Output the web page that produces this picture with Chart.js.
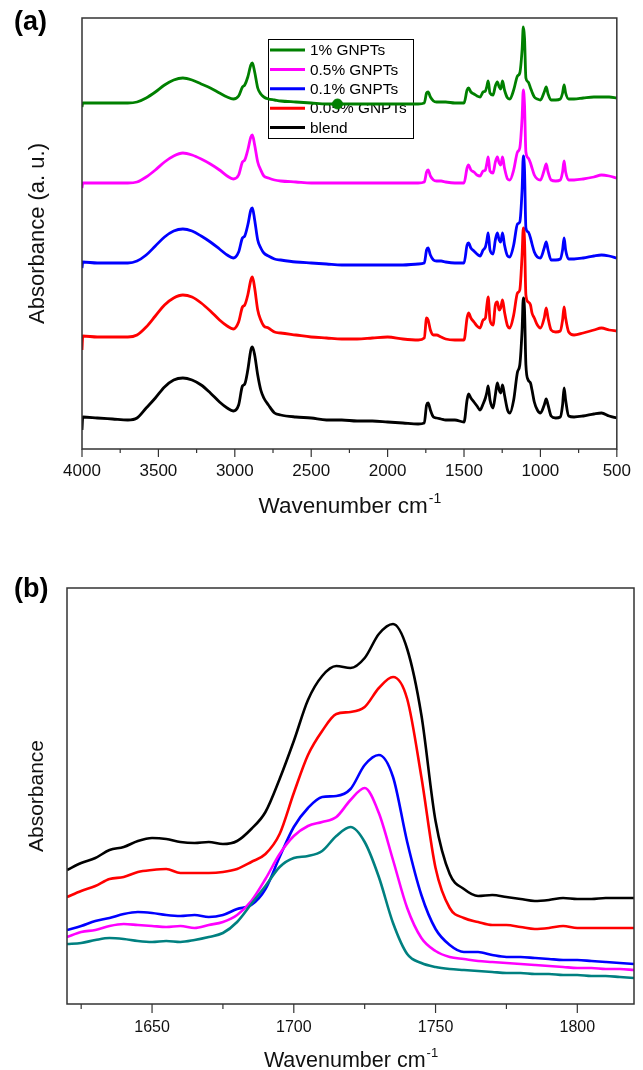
<!DOCTYPE html>
<html>
<head>
<meta charset="utf-8">
<script src="https://cdn.jsdelivr.net/npm/chart.js@4.4.1/dist/chart.umd.min.js"></script>
<style>
  body { margin: 0; background: #fff; }
  canvas { position: absolute; left: 0; }
  #chartA { top: 0; }
  #chartB { top: 540px; }
</style>
</head>
<body>
<canvas id="chartA" width="643" height="540"></canvas>
<canvas id="chartB" width="643" height="530"></canvas>
<script>
// ---- panel (a): full FTIR spectra, offset vertically ----
const wavenumbersA = [4000, 3995, 3900, 3800, 3700, 3640, 3580, 3520, 3460, 3400,
  3340, 3280, 3220, 3160, 3100, 3050, 3010, 2975, 2950, 2935,
  2915, 2895, 2885, 2870, 2850, 2830, 2810, 2780, 2740, 2700,
  2600, 2500, 2400, 2300, 2200, 2100, 2000, 1900, 1800, 1760,
  1745, 1735, 1720, 1700, 1680, 1650, 1620, 1560, 1500, 1480,
  1470, 1455, 1435, 1415, 1395, 1375, 1360, 1350, 1342, 1330,
  1310, 1295, 1282, 1270, 1260, 1248, 1235, 1215, 1200, 1175,
  1150, 1135, 1120, 1112, 1104, 1095, 1080, 1065, 1055, 1040,
  1020, 1000, 975, 962, 950, 930, 900, 870, 855, 845,
  835, 815, 780, 720, 650, 600, 550, 500];

const gnp1A = [342, 346, 346, 346, 346, 347, 351, 357, 364, 369,
  371, 369, 365, 361, 356, 352, 350, 353, 362, 364,
  372, 384, 386, 377, 361, 355, 352, 350, 349, 348,
  347, 346, 345, 345, 345, 345, 345, 345, 345, 346,
  356, 357, 352, 348, 347, 347, 347, 346, 346, 359,
  361, 357, 355, 353, 352, 357, 358, 363, 368, 356,
  354, 363, 367, 362, 360, 368, 359, 351, 350, 359,
  373, 376, 399, 422, 411, 371, 367, 361, 357, 352,
  350, 349, 357, 362, 355, 349, 349, 350, 356, 364,
  356, 350, 350, 351, 352, 352, 352, 351];

const gnp05A = [261, 266, 266, 266, 266, 267, 272, 279, 287, 293,
  296, 294, 290, 285, 279, 273, 270, 274, 287, 289,
  299, 312, 314, 304, 287, 279, 273, 271, 269, 268,
  267, 266, 266, 266, 266, 266, 266, 266, 266, 267,
  277, 279, 273, 269, 268, 268, 267, 266, 266, 281,
  284, 279, 277, 274, 273, 278, 279, 286, 292, 278,
  276, 287, 292, 286, 284, 292, 281, 270, 269, 279,
  297, 301, 331, 359, 344, 297, 291, 286, 281, 274,
  270, 269, 279, 285, 277, 269, 268, 269, 277, 288,
  277, 269, 269, 270, 272, 274, 273, 271];

const gnp01A = [181, 187, 186, 186, 186, 188, 194, 203, 212, 218,
  220, 218, 213, 207, 200, 194, 191, 197, 211, 213,
  224, 239, 241, 229, 209, 201, 196, 193, 190, 189,
  187, 186, 185, 184, 184, 184, 184, 184, 185, 186,
  199, 201, 194, 189, 188, 188, 187, 186, 186, 204,
  206, 201, 198, 195, 193, 199, 202, 209, 216, 199,
  195, 209, 216, 209, 207, 216, 204, 193, 192, 204,
  225, 227, 259, 293, 279, 221, 217, 211, 205, 197,
  192, 191, 201, 207, 199, 189, 189, 190, 199, 211,
  199, 190, 190, 191, 193, 194, 193, 191];

const gnp005A = [99, 113, 112, 112, 112, 114, 122, 133, 144, 151,
  154, 152, 146, 138, 129, 123, 120, 127, 142, 144,
  154, 169, 172, 161, 139, 129, 123, 121, 117, 116,
  114, 112, 111, 110, 110, 111, 112, 110, 109, 111,
  131, 129, 119, 114, 114, 112, 110, 109, 109, 131,
  136, 131, 127, 123, 121, 129, 131, 144, 152, 129,
  124, 144, 147, 139, 141, 149, 137, 123, 121, 134,
  156, 159, 194, 221, 209, 154, 147, 144, 136, 131,
  124, 121, 131, 141, 131, 119, 117, 118, 129, 142,
  131, 117, 114, 116, 119, 121, 119, 118];

const blendA = [19, 32, 31, 30, 29, 31, 41, 51, 62, 69,
  71, 69, 64, 56, 47, 41, 38, 44, 63, 65,
  79, 99, 102, 94, 74, 59, 51, 44, 36, 34,
  32, 31, 29, 29, 28, 28, 27, 26, 25, 26,
  44, 46, 39, 32, 31, 30, 29, 29, 27, 49,
  55, 51, 47, 43, 39, 45, 51, 57, 63, 49,
  41, 54, 66, 59, 56, 64, 54, 39, 36, 49,
  77, 84, 119, 151, 139, 84, 69, 66, 59, 47,
  39, 36, 44, 50, 44, 33, 31, 32, 44, 61,
  49, 33, 32, 33, 35, 36, 33, 31];

// stray marker left on the 1% trace
const strayPointA = [2328, 345];
const tickLabelsA = [4000, 3500, 3000, 2500, 2000, 1500, 1000, 500];

// ---- panel (b): carbonyl region ----
const wavenumbersB = [1620, 1625, 1630, 1635, 1640, 1645, 1650, 1655, 1660, 1665,
  1670, 1675, 1680, 1685, 1690, 1695, 1700, 1705, 1710, 1715,
  1720, 1725, 1730, 1735, 1740, 1745, 1750, 1755, 1760, 1765,
  1770, 1775, 1780, 1785, 1790, 1795, 1800, 1805, 1810, 1815, 1820];

const gnp1B = [60, 61, 64, 66, 65, 63, 62, 63, 62, 64,
  67, 71, 82, 100, 118, 137, 146, 148, 153, 168,
  177, 162, 127, 81, 50, 41, 37, 35, 34, 33,
  32, 31, 31, 30, 30, 29, 29, 28, 28, 27, 26];
const gnp05B = [67, 72, 74, 78, 80, 79, 78, 77, 78, 76,
  79, 82, 89, 103, 125, 150, 168, 178, 182, 187,
  204, 216, 191, 144, 96, 66, 53, 47, 45, 43,
  42, 41, 40, 39, 38, 37, 36, 36, 35, 35, 34];
const gnp01B = [74, 78, 83, 86, 90, 92, 91, 89, 88, 89,
  87, 89, 95, 99, 115, 147, 177, 196, 207, 208,
  215, 239, 249, 227, 162, 109, 75, 59, 52, 52,
  49, 47, 47, 46, 45, 44, 44, 43, 42, 41, 40];
const gnp005B = [107, 113, 118, 125, 127, 132, 134, 135, 131, 131,
  131, 132, 135, 142, 150, 170, 211, 249, 273, 290,
  292, 297, 316, 327, 305, 227, 136, 96, 86, 82,
  79, 79, 77, 75, 76, 78, 76, 76, 76, 76, 76];
const blendB = [134, 141, 146, 154, 157, 163, 166, 165, 162, 161,
  162, 160, 163, 175, 192, 225, 263, 304, 328, 338,
  336, 346, 370, 380, 355, 289, 183, 130, 115, 108,
  109, 107, 105, 103, 104, 106, 105, 105, 106, 106, 106];
const tickLabelsB = [1650, 1700, 1750, 1800];

const seriesLabels = ["1% GNPTs", "0.5% GNPTs", "0.1% GNPTs", "0.05% GNPTs", "blend"];
const colorsA = ["#008000", "#ff00ff", "#0000ff", "#ff0000", "#000000"];
const colorsB = ["#008080", "#ff00ff", "#0000ff", "#ff0000", "#000000"];

const FONT = '"Liberation Sans", Arial, sans-serif';

const pts = (xs, ys) => xs.map((x, i) => ({ x: x, y: ys[i] }));

// legend, frame, tick marks, x title and panel letter
const decor = {
  id: "decor",
  beforeDatasetsDraw(chart, args, o) {
    const ctx = chart.ctx;
    const lg = o.legend;
    ctx.save();
    ctx.strokeStyle = "#000";
    ctx.lineWidth = 1;
    ctx.strokeRect(lg.x + 0.5, lg.y + 0.5, lg.w, lg.h);
    ctx.font = lg.size + "px " + FONT;
    ctx.textBaseline = "middle";
    chart.data.datasets.filter((d) => d.label).forEach((d, i) => {
      const y = lg.y + lg.first + i * lg.row;
      ctx.strokeStyle = d.borderColor;
      ctx.lineWidth = 3;
      ctx.beginPath();
      ctx.moveTo(lg.x + 2, y);
      ctx.lineTo(lg.x + 2 + lg.line, y);
      ctx.stroke();
      ctx.fillStyle = "#000";
      ctx.fillText(d.label, lg.x + lg.line + lg.gap, y + 1);
    });
    ctx.restore();
  },
  afterDraw(chart, args, o) {
    const ctx = chart.ctx;
    const a = chart.chartArea;
    const x = chart.scales.x;
    ctx.save();
    ctx.strokeStyle = "#333";
    ctx.lineWidth = 1.5;
    ctx.strokeRect(a.left, a.top, a.right - a.left, a.bottom - a.top);

    ctx.lineWidth = 1.2;
    for (let v = o.tickFrom; v <= o.tickTo; v += o.minor) {
      const px = x.getPixelForValue(v);
      const len = v % o.major === 0 ? o.majorLen : o.minorLen;
      ctx.beginPath();
      ctx.moveTo(px, a.bottom);
      ctx.lineTo(px, a.bottom + len);
      ctx.stroke();
    }

    ctx.fillStyle = "#111";
    ctx.textBaseline = "alphabetic";
    const main = "Wavenumber cm";
    const supSize = Math.round(o.titleSize * 0.62);
    ctx.font = o.titleSize + "px " + FONT;
    const w1 = ctx.measureText(main).width;
    ctx.font = supSize + "px " + FONT;
    const w2 = ctx.measureText("-1").width;
    const sx = (a.left + a.right) / 2 - (w1 + w2) / 2;
    ctx.font = o.titleSize + "px " + FONT;
    ctx.fillText(main, sx, o.titleY);
    ctx.font = supSize + "px " + FONT;
    ctx.fillText("-1", sx + w1 + 1, o.titleY - o.titleSize * 0.45);

    ctx.fillStyle = "#000";
    ctx.font = "bold " + o.letterSize + "px " + FONT;
    ctx.fillText(o.letter, o.letterX, o.letterY);
    ctx.restore();
  },
};

const lineSet = (label, color, data, width) => ({
  label: label,
  data: data,
  borderColor: color,
  backgroundColor: color,
  borderWidth: width,
  pointRadius: 0,
  fill: false,
  cubicInterpolationMode: "monotone",
});

// panel (a)
const seriesA = [gnp1A, gnp05A, gnp01A, gnp005A, blendA];
const datasetsA = seriesA.map((s, i) => lineSet(seriesLabels[i], colorsA[i], pts(wavenumbersA, s), 2.8));
datasetsA.push({
  label: "",
  data: [{ x: strayPointA[0], y: strayPointA[1] }],
  showLine: false,
  pointRadius: 5,
  pointBackgroundColor: colorsA[0],
  pointBorderColor: colorsA[0],
});

new Chart(document.querySelector("#chartA"), {
  type: "line",
  data: { datasets: datasetsA },
  plugins: [decor],
  options: {
    responsive: false,
    animation: false,
    layout: { padding: { top: 18, right: 25, left: 0, bottom: 0 } },
    scales: {
      x: {
        type: "linear",
        reverse: true,
        min: 500,
        max: 4000,
        border: { display: false },
        grid: { display: false, drawTicks: false },
        afterBuildTicks: (s) => { s.ticks = tickLabelsA.map((v) => ({ value: v })); },
        ticks: { padding: 12, color: "#111", font: { size: 17, family: FONT }, maxRotation: 0, autoSkip: false, callback: (v) => String(v) },
        afterFit: (s) => { s.height = 91; },
      },
      y: {
        min: 0,
        max: 431,
        border: { display: false },
        grid: { display: false, drawTicks: false },
        ticks: { display: false },
        title: { display: true, text: "Absorbance (a. u.)", color: "#111", font: { size: 22, family: FONT }, padding: { top: 25, bottom: 0 } },
        afterFit: (s) => { s.width = 82; },
      },
    },
    plugins: {
      legend: { display: false },
      tooltip: { enabled: false },
      decor: {
        legend: { x: 268, y: 39, w: 145, h: 99, first: 11, row: 19.4, line: 35, gap: 7, size: 15.4 },
        tickFrom: 500, tickTo: 4000, minor: 250, major: 500, majorLen: 8, minorLen: 4,
        titleSize: 22.5, titleY: 513,
        letter: "(a)", letterSize: 27, letterX: 14, letterY: 30,
      },
    },
  },
});

// panel (b)
const seriesB = [gnp1B, gnp05B, gnp01B, gnp005B, blendB];
const datasetsB = seriesB.map((s, i) => lineSet(seriesLabels[i], colorsB[i], pts(wavenumbersB, s), 2.6));

new Chart(document.querySelector("#chartB"), {
  type: "line",
  data: { datasets: datasetsB },
  plugins: [decor],
  options: {
    responsive: false,
    animation: false,
    layout: { padding: { top: 48, right: 9, left: 0, bottom: 0 } },
    scales: {
      x: {
        type: "linear",
        min: 1620,
        max: 1820,
        border: { display: false },
        grid: { display: false, drawTicks: false },
        afterBuildTicks: (s) => { s.ticks = tickLabelsB.map((v) => ({ value: v })); },
        ticks: { padding: 14, color: "#111", font: { size: 16, family: FONT }, maxRotation: 0, autoSkip: false, callback: (v) => String(v) },
        afterFit: (s) => { s.height = 66; },
      },
      y: {
        min: 0,
        max: 416,
        border: { display: false },
        grid: { display: false, drawTicks: false },
        ticks: { display: false },
        title: { display: true, text: "Absorbance", color: "#111", font: { size: 21, family: FONT }, padding: { top: 25, bottom: 0 } },
        afterFit: (s) => { s.width = 67; },
      },
    },
    plugins: {
      legend: { display: false },
      tooltip: { enabled: false },
      decor: {
        legend: { x: 455, y: 597, w: 155, h: 106, first: 12, row: 20.75, line: 39, gap: 5, size: 16.7 },
        tickFrom: 1625, tickTo: 1800, minor: 25, major: 50, majorLen: 9, minorLen: 5,
        titleSize: 21.5, titleY: 527,
        letter: "(b)", letterSize: 27, letterX: 14, letterY: 57,
      },
    },
  },
});
</script>
</body>
</html>
